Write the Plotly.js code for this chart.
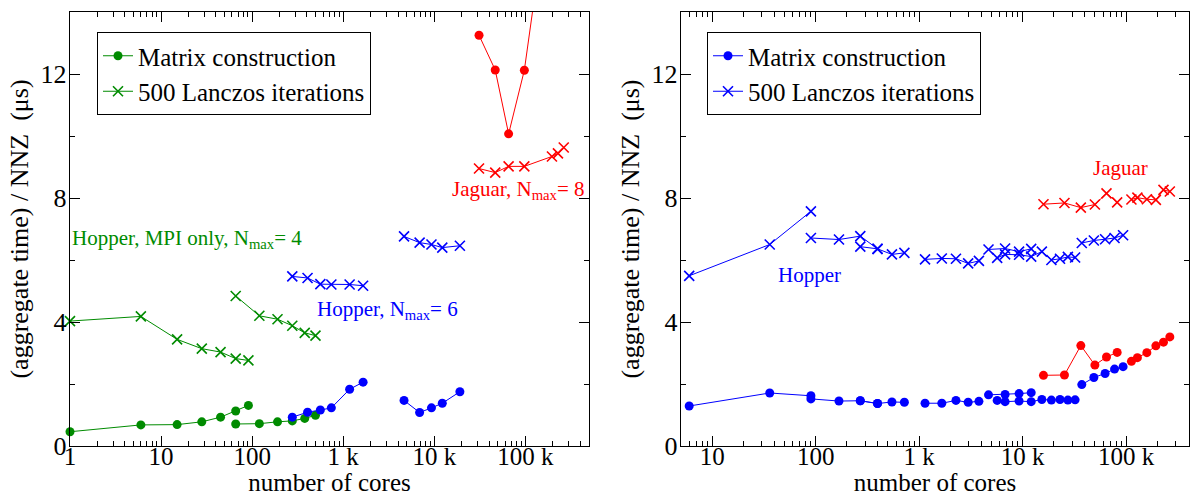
<!DOCTYPE html>
<html><head><meta charset="utf-8">
<script src="https://cdn.plot.ly/plotly-3.0.1.min.js"></script>
<style>html,body{margin:0;padding:0;background:#fff}#chart{width:1191px;height:496px}</style>
</head><body><div id="chart"></div>
<script>
// ---------- Left panel data ----------
const hopMpiCores1 = [1, 6, 15, 28, 45, 66, 91];
const hopMpiMatrix1 = [0.46, 0.68, 0.69, 0.78, 0.93, 1.13, 1.31];
const hopMpiLanczos1 = [4.03, 4.18, 3.44, 3.14, 3.03, 2.82, 2.76];
const hopMpiCores2 = [66, 120, 190, 276, 378, 496];
const hopMpiMatrix2 = [0.71, 0.72, 0.78, 0.81, 0.89, 0.99];
const hopMpiLanczos2 = [4.84, 4.20, 4.09, 3.88, 3.65, 3.56];
const hop6Cores1 = [276, 406, 561, 741, 1176, 1653];
const hop6Matrix1 = [0.93, 1.09, 1.16, 1.23, 1.83, 2.06];
const hop6Lanczos1 = [5.47, 5.42, 5.22, 5.21, 5.21, 5.17];
const hop6Cores2 = [4656, 6903, 9316, 12246, 19110];
const hop6Matrix2 = [1.47, 1.08, 1.23, 1.38, 1.75];
const hop6Lanczos2 = [6.76, 6.56, 6.50, 6.40, 6.46];
const jag8MatrixCores = [31000, 46700, 65500, 97500, 196000];
const jag8Matrix = [13.25, 12.13, 10.07, 12.12, 18.5];
const jag8Cores = [31000, 46700, 65500, 97500, 196000, 228000, 264000];
const jag8Lanczos = [8.95, 8.82, 9.02, 9.02, 9.34, 9.44, 9.63];

// ---------- Right panel data ----------
const hopACores = [6, 36, 90];
const hopAMatrix = [1.29, 1.71, 1.62];
const hopALanczos = [5.49, 6.50, 7.57];
const hopBCores = [90, 168, 270, 396];
const hopBMatrix = [1.52, 1.45, 1.46, 1.37];
const hopBLanczos = [6.71, 6.66, 6.77, 6.36];
const hopCCores = [270, 396, 546, 720];
const hopCMatrix = [1.46, 1.37, 1.42, 1.41];
const hopCLanczos = [6.43, 6.36, 6.18, 6.23];
const hopDCores = [1140, 1656, 2268, 2976, 3780];
const hopDMatrix = [1.38, 1.38, 1.47, 1.41, 1.44];
const hopDLanczos = [6.02, 6.05, 6.04, 5.89, 5.97];
const hopECores = [4680, 6768, 9240, 12096];
const hopEMatrix = [1.65, 1.66, 1.69, 1.72];
const hopELanczos = [6.34, 6.37, 6.27, 6.36];
const hopFCores = [5676, 6768, 9240, 12096, 15336, 18960, 22968, 27360, 32136];
const hopFMatrix = [1.47, 1.43, 1.45, 1.43, 1.50, 1.48, 1.50, 1.48, 1.49];
const hopFLanczos = [6.07, 6.18, 6.17, 6.11, 6.27, 6.00, 6.04, 6.10, 6.08];
const hopGCores = [37296, 48768, 62640, 77280, 93456];
const hopGMatrix = [1.98, 2.21, 2.34, 2.48, 2.56];
const hopGLanczos = [6.55, 6.63, 6.67, 6.71, 6.80];
const jagACores = [15900, 25350, 36500, 49900, 64600, 81900];
const jagAMatrix = [2.28, 2.29, 3.24, 2.61, 2.87, 3.02];
const jagALanczos = [7.80, 7.84, 7.69, 7.79, 8.15, 7.86];
const jagBCores = [112500, 128500, 158600, 193800, 229600, 264400];
const jagBMatrix = [2.73, 2.85, 3.01, 3.23, 3.35, 3.52];
const jagBLanczos = [7.95, 8.01, 7.96, 7.94, 8.26, 8.21];

// ---------- tick labels ----------
const xTickVals = [1, 10, 100, 1000, 10000, 100000];
const xTickText = ['1', '10', '100', '1 k', '10 k', '100 k'];
const yTickVals = [0, 4, 8, 12];
const yTickText = ['0', '4', '8', '12'];
const legendNames = ['Matrix construction', '500 Lanczos iterations'];

const FONT = '"Liberation Serif", "Times New Roman", Times, serif';
const GREEN = 'rgb(0,139,0)', BLUE = 'rgb(0,0,255)', RED = 'rgb(255,0,0)';

function tr(x, y, color, kind, panel, opts) {
  opts = opts || {};
  const isDot = kind === 'matrix';
  return Object.assign({
    type: 'scatter', mode: 'lines+markers', x: x, y: y,
    xaxis: panel === 1 ? 'x' : 'x2', yaxis: panel === 1 ? 'y' : 'y2',
    line: {color: color, width: 1},
    marker: isDot ? {symbol: 'circle', size: 9, color: color}
                  : {symbol: 'x-thin', size: 10, color: color, line: {color: color, width: 1.6}},
    cliponaxis: false, showlegend: false, hoverinfo: 'skip'
  }, opts);
}

const data = [
  tr(hopMpiCores1, hopMpiMatrix1, GREEN, 'matrix', 1, {showlegend: true, name: legendNames[0], legend: 'legend'}),
  tr(hopMpiCores1, hopMpiLanczos1, GREEN, 'lanczos', 1, {showlegend: true, name: legendNames[1], legend: 'legend'}),
  tr(hopMpiCores2, hopMpiMatrix2, GREEN, 'matrix', 1),
  tr(hopMpiCores2, hopMpiLanczos2, GREEN, 'lanczos', 1),
  tr(hop6Cores1, hop6Matrix1, BLUE, 'matrix', 1),
  tr(hop6Cores1, hop6Lanczos1, BLUE, 'lanczos', 1),
  tr(hop6Cores2, hop6Matrix2, BLUE, 'matrix', 1),
  tr(hop6Cores2, hop6Lanczos2, BLUE, 'lanczos', 1),
  tr(jag8MatrixCores, jag8Matrix, RED, 'matrix', 1),
  tr(jag8Cores, jag8Lanczos, RED, 'lanczos', 1),

  tr(hopACores, hopAMatrix, BLUE, 'matrix', 2, {showlegend: true, name: legendNames[0], legend: 'legend2'}),
  tr(hopACores, hopALanczos, BLUE, 'lanczos', 2, {showlegend: true, name: legendNames[1], legend: 'legend2'}),
  tr(hopBCores, hopBMatrix, BLUE, 'matrix', 2),
  tr(hopBCores, hopBLanczos, BLUE, 'lanczos', 2),
  tr(hopCCores, hopCMatrix, BLUE, 'matrix', 2),
  tr(hopCCores, hopCLanczos, BLUE, 'lanczos', 2),
  tr(hopDCores, hopDMatrix, BLUE, 'matrix', 2),
  tr(hopDCores, hopDLanczos, BLUE, 'lanczos', 2),
  tr(hopECores, hopEMatrix, BLUE, 'matrix', 2),
  tr(hopECores, hopELanczos, BLUE, 'lanczos', 2),
  tr(hopFCores, hopFMatrix, BLUE, 'matrix', 2),
  tr(hopFCores, hopFLanczos, BLUE, 'lanczos', 2),
  tr(hopGCores, hopGMatrix, BLUE, 'matrix', 2),
  tr(hopGCores, hopGLanczos, BLUE, 'lanczos', 2),
  tr(jagACores, jagAMatrix, RED, 'matrix', 2),
  tr(jagACores, jagALanczos, RED, 'lanczos', 2),
  tr(jagBCores, jagBMatrix, RED, 'matrix', 2),
  tr(jagBCores, jagBLanczos, RED, 'lanczos', 2)
];

// layout geometry (pixels)
const ML = 70, MR = 2, MT = 12, MB = 50, W = 1191, H = 496;
const PW = W - ML - MR, PH = H - MT - MB;
const px = v => (v - ML) / PW;
const py = v => (H - MB - v) / PH;

const minorVals = [];
for (let d = 1; d <= 100000; d *= 10) for (let k = 2; k <= 9; k++) minorVals.push(k * d);

function xax(domain, range, anchor) {
  return {
    type: 'log', domain: domain, range: range, anchor: anchor,
    tickmode: 'array', tickvals: xTickVals, ticktext: xTickText,
    ticks: 'inside', ticklen: 10, tickwidth: 1, tickcolor: '#000',
    mirror: 'allticks', showline: true, linecolor: '#000', linewidth: 1.2,
    showgrid: false, zeroline: false, automargin: false,
    ticklabelstandoff: -12,
    tickfont: {family: FONT, size: 25, color: '#000'},
    title: {text: 'number of cores', font: {family: FONT, size: 25, color: '#000'}, standoff: 12},
    minor: {tickmode: 'array', tickvals: minorVals, ticks: 'inside', ticklen: 5, tickwidth: 1, tickcolor: '#000', showgrid: false}
  };
}
function yax(anchor) {
  return {
    domain: [0, 1], range: [0, 14], anchor: anchor,
    tickmode: 'array', tickvals: yTickVals, ticktext: yTickText,
    ticks: 'inside', ticklen: 10, tickwidth: 1, tickcolor: '#000',
    mirror: 'allticks', showline: true, linecolor: '#000', linewidth: 1.2,
    showgrid: false, zeroline: false, automargin: false,
    ticklabelstandoff: -3,
    tickfont: {family: FONT, size: 26, color: '#000'},
    title: {text: '(aggregate time) / NNZ\u00a0 (\u03bcs)', font: {family: FONT, size: 26, color: '#000'}, standoff: 4},
    minor: {tickmode: 'linear', tick0: 0, dtick: 2, ticks: 'inside', ticklen: 5, tickwidth: 1, tickcolor: '#000', showgrid: false}
  };
}

function ann(text, x, y, color) {
  return {text: text, xref: 'paper', yref: 'paper', x: px(x), y: py(y), xanchor: 'left', yanchor: 'middle',
          showarrow: false, font: {family: FONT, size: 21, color: color}};
}

const layout = {
  width: W, height: H,
  margin: {l: ML, r: MR, t: MT, b: MB},
  paper_bgcolor: '#fff', plot_bgcolor: '#fff',
  font: {family: FONT, color: '#000'},
  xaxis: xax([0, px(589)], [0, Math.log10(5e5)], 'y'),
  yaxis: yax('x'),
  xaxis2: xax([px(681), 1], [Math.log10(5), Math.log10(4.05e5)], 'y2'),
  yaxis2: yax('x2'),
  legend: {x: px(97), y: py(32), xanchor: 'left', yanchor: 'top', bordercolor: '#000', borderwidth: 1,
           bgcolor: '#fff', font: {family: FONT, size: 25, color: '#000'}, tracegroupgap: 0},
  legend2: {x: px(707), y: py(32), xanchor: 'left', yanchor: 'top', bordercolor: '#000', borderwidth: 1,
           bgcolor: '#fff', font: {family: FONT, size: 25, color: '#000'}, tracegroupgap: 0},
  annotations: [
    ann('Hopper, MPI only, N<sub>max</sub>= 4', 70, 239, GREEN),
    ann('Hopper, N<sub>max</sub>= 6', 315, 310, BLUE),
    ann('Jaguar, N<sub>max</sub>= 8', 450, 190, RED),
    ann('Hopper', 776, 275, BLUE),
    ann('Jaguar', 1091, 168, RED)
  ]
};

Plotly.newPlot('chart', data, layout, {staticPlot: true, displayModeBar: false});
</script>
</body></html>
